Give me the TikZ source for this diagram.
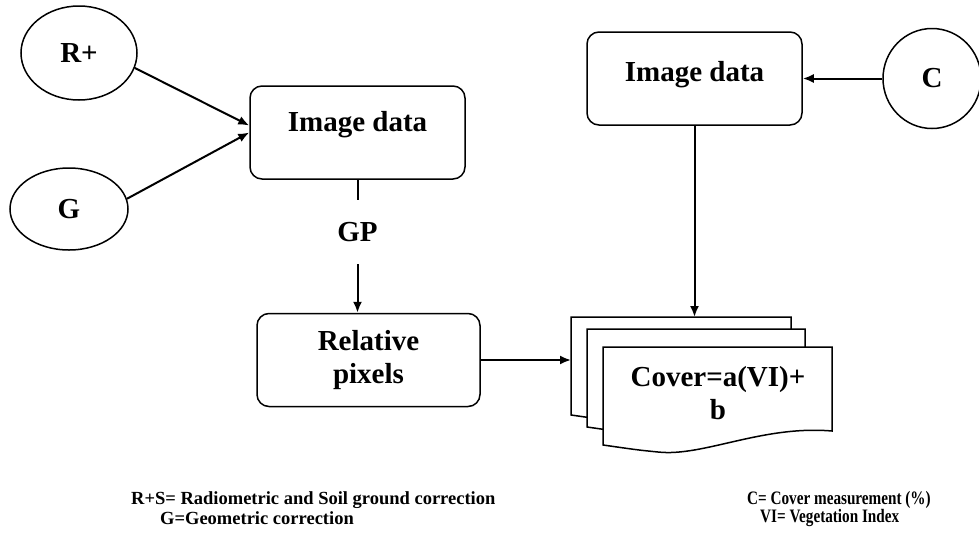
\documentclass[tikz,border=0pt]{standalone}
\usepackage{fontspec}
\setmainfont{Liberation Serif}
\newfontfamily\notefont{Liberation Serif}
\newfontfamily\notefontc[FakeStretch=0.80]{Liberation Serif}
\usepackage{tikz}
\usetikzlibrary{arrows.meta,shapes.geometric,positioning}

\tikzset{
  box/.style={draw, rounded corners=12pt, line width=1.5pt, minimum width=215pt,
    minimum height=93pt, align=center, font=\fontsize{29}{33}\selectfont\bfseries},
  ell/.style={draw, ellipse, line width=1.5pt, inner sep=0pt,
    font=\fontsize{29}{33}\selectfont\bfseries},
  flow/.style={-{Latex[length=11pt,width=9pt]}, line width=2pt},
  note/.style={anchor=west, inner sep=0pt, font=\notefont\fontsize{18.5}{20}\selectfont\bfseries},
  notec/.style={anchor=west, inner sep=0pt, font=\notefontc\fontsize{19}{20}\selectfont\bfseries},
}

% one sheet of the stack: left, top, right, bottom-left
\newcommand{\docpage}[4]{%
  \draw[fill=white, line width=1.5pt] (#1,#4) -- (#1,#2) -- (#3,#2) -- (#3,#4-14)
    .. controls (#3-70,#4-20) and (#1+100,#4+12) .. (#1+55,#4+7)
    .. controls (#1+35,#4+5) .. (#1,#4) -- cycle;}

\begin{document}
\begin{tikzpicture}[x=1pt, y=-1pt]
  \useasboundingbox (0,0) rectangle (979,536);

  % left branch
  \node[ell, minimum width=116pt, minimum height=94pt] (rplus) at (79,53) {R+};
  \node[ell, minimum width=118pt, minimum height=82pt] (geo) at (69,209) {G};
  \node[box, text depth=22pt] (img) at (357.5,132.5) {Image data};
  \node[inner sep=0pt, minimum height=64pt, font=\fontsize{29}{33}\selectfont\bfseries] (gp) at (357.5,232) {GP};
  \node[box, minimum width=223pt] (rel) [below=133pt of img.south, anchor=north, xshift=11pt] {Relative\\pixels};

  % right branch
  \node[box, text depth=14pt] (imgtwo) at (694.5,78.5) {Image data};
  \node[ell, minimum width=98pt, minimum height=100pt] (c) at (932,78.5) {C};

  % stacked sheets
  \docpage{571}{317}{791}{415}
  \docpage{587}{329}{805}{427}
  \docpage{603}{347}{832}{445}
  \node[align=center, font=\fontsize{29}{33}\selectfont\bfseries] (cover) at (718,393) {Cover=a(VI)+\\b};
  \coordinate (stackin) at (571,358.5);
  \coordinate (stacktop) at (694.5,317);

  % connectors
  \draw[flow] (rplus.-15) -- ([yshift=7pt]img.west);
  \draw[flow] (geo.10) -- (img.west);
  \draw[line width=2pt] (img.south) -- (gp.north);
  \draw[flow] (gp.south) -- (gp.south |- rel.north);
  \draw[flow] (rel.east) -- (rel.east -| stackin);
  \draw[flow] (c) -- (imgtwo.east);
  \draw[flow] (imgtwo.south) -- (stacktop);

  % legend
  \node[note] (leg1) at (131,500) {R+S= Radiometric and Soil ground correction};
  \node[note] (leg2) at (160,518) {G=Geometric correction};
  \node[notec] (leg3) at (747,500) {C= Cover measurement (\%)};
  \node[notec] (leg4) at (760,518) {VI= Vegetation Index};
\end{tikzpicture}
\end{document}
